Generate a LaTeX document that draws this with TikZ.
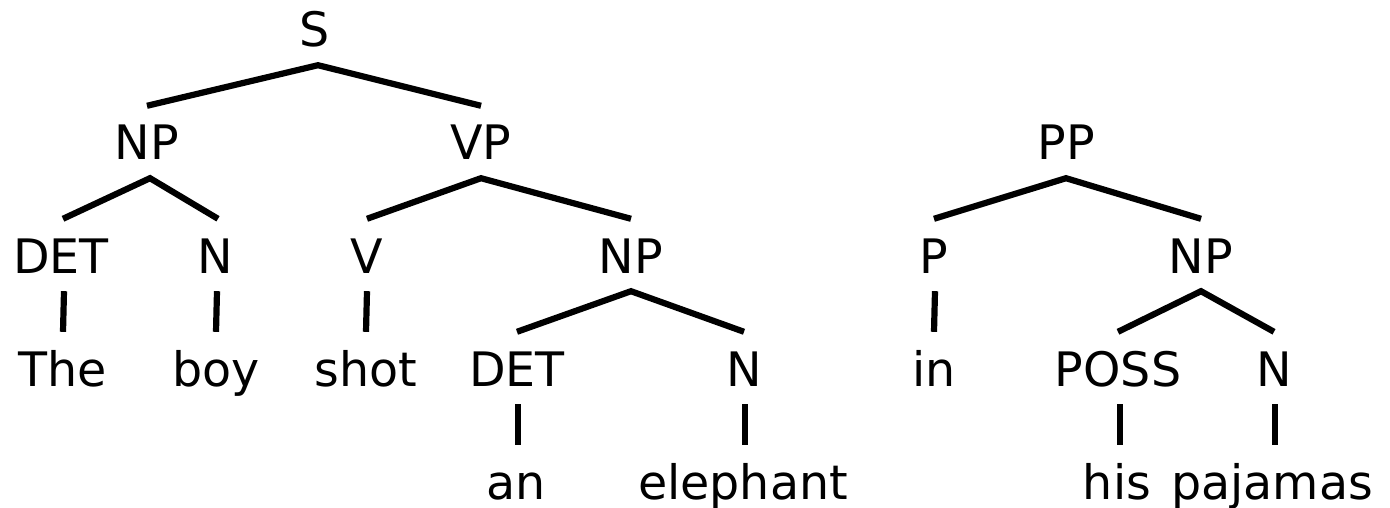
\documentclass[tikz,border=0pt]{standalone}
\usepackage{fontspec}
\setmainfont{DejaVu Sans}
\begin{document}
\begin{tikzpicture}[x=1pt,y=-1pt,
  lbl/.style={anchor=base,inner xsep=0pt,inner ysep=18pt,text height=36pt,text depth=0pt,font=\fontsize{47.5}{56}\selectfont},
  edge/.style={line width=6.2pt,line cap=butt}]
\useasboundingbox (0,0) rectangle (1390,508);
% row 1
\node[lbl] (S) at (315,47) {S};
% row 2
\node[lbl] (NP1) at (147,160) {NP};
\node[lbl] (VP) at (481,160) {VP};
\node[lbl] (PP) at (1066,160) {PP};
% row 3
\node[lbl] (DET1) at (61,273) {DET};
\node[lbl] (N1) at (215,273) {N};
\node[lbl] (V) at (367,273) {V};
\node[lbl] (NP2) at (631,273) {NP};
\node[lbl] (P) at (934,273) {P};
\node[lbl] (NP3) at (1201,273) {NP};
% row 4
\node[lbl] (The) at (63,386) {The};
\node[lbl] (boy) at (216,386) {boy};
\node[lbl] (shot) at (366,386) {shot};
\node[lbl] (DET2) at (517,386) {DET};
\node[lbl] (N2) at (744,386) {N};
\node[lbl] (in) at (934,386) {in};
\node[lbl] (POSS) at (1118,386) {POSS};
\node[lbl] (N3) at (1274,386) {N};
% row 5
\node[lbl] (an) at (516,499) {an};
\node[lbl] (elephant) at (743,499) {elephant};
\node[lbl] (his) at (1117,499) {his};
\node[lbl] (pajamas) at (1272,499) {pajamas};
% edges
\draw[edge] (NP1.north) -- ([xshift=3pt]S.south) -- (VP.north);
\draw[edge] ([xshift=2pt]DET1.north) -- ([xshift=3pt]NP1.south) -- ([xshift=3pt]N1.north);
\draw[edge] (V.north) -- (VP.south) -- (NP2.north);
\draw[edge] (P.north) -- (PP.south) -- (NP3.north);
\draw[edge] (DET2.north) -- (NP2.south) -- (N2.north);
\draw[edge] (POSS.north) -- (NP3.south) -- (N3.north);
\draw[edge] ([xshift=3pt]DET1.south) -- (The.north);
\draw[edge] ([xshift=2pt]N1.south) -- (boy.north);
\draw[edge] (V.south) -- (shot.north);
\draw[edge] ([xshift=1pt]P.south) -- (in.north);
\draw[edge] ([xshift=1pt]DET2.south) -- ([xshift=2pt]an.north);
\draw[edge] ([xshift=1pt]N2.south) -- ([xshift=2pt]elephant.north);
\draw[edge] ([xshift=2pt]POSS.south) -- ([xshift=3pt]his.north);
\draw[edge] ([xshift=1pt]N3.south) -- ([xshift=3pt]pajamas.north);
\end{tikzpicture}
\end{document}
